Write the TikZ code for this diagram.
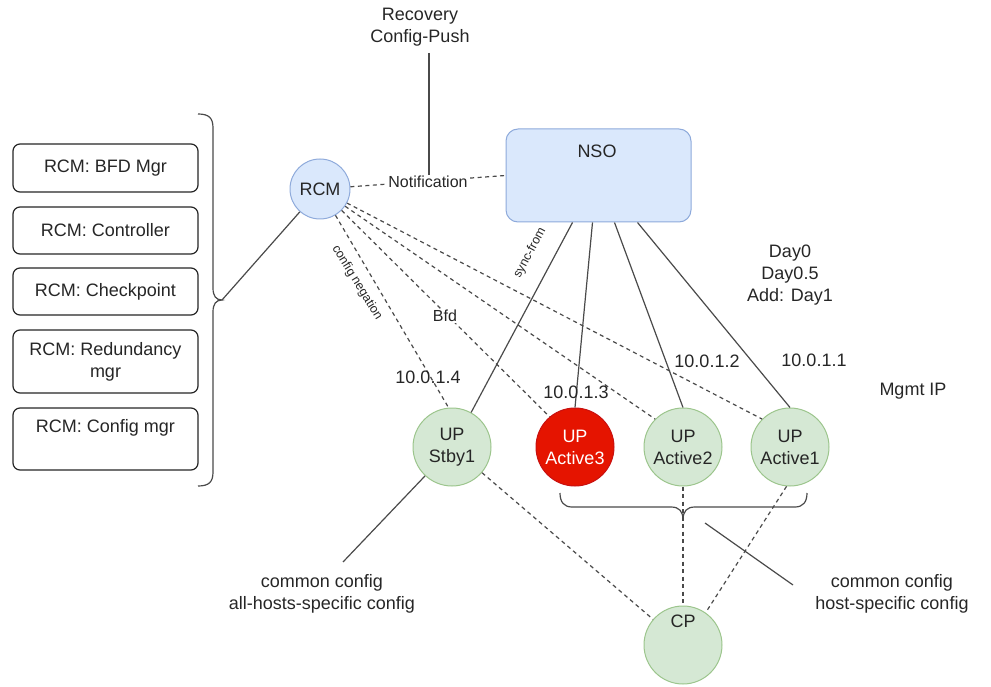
\documentclass[tikz,border=0pt]{standalone}
\usepackage{fontspec}
\setmainfont{Liberation Sans}
\usetikzlibrary{calc}
\definecolor{txt}{HTML}{262626}
\definecolor{ln}{HTML}{4A4A4A}
\definecolor{bluef}{HTML}{DAE8FC}
\definecolor{blued}{HTML}{8EAADB}
\definecolor{greenf}{HTML}{D5E8D4}
\definecolor{greend}{HTML}{9CC58C}
\definecolor{redf}{HTML}{E51400}
\definecolor{redd}{HTML}{C81010}
\begin{document}
\begin{tikzpicture}[x=1pt,y=-1pt,
  every node/.style={text=txt, font=\fontsize{18}{22}\selectfont, inner sep=0pt, align=center},
  mbox/.style={draw=txt, rounded corners=7pt, line width=1.2pt, minimum width=185pt, fill=white},
  upnode/.style={circle, draw=greend, fill=greenf, minimum size=78pt, line width=1pt},
  rednode/.style={circle, draw=redd, fill=redf, minimum size=78pt, line width=1pt, text=white},
  rcmnode/.style={circle, draw=blued, fill=bluef, minimum size=60pt, line width=1pt},
  nsobox/.style={draw=blued, fill=bluef, rounded corners=12pt, minimum width=185pt, minimum height=93pt, line width=1pt},
  conn/.style={draw=ln, line width=1.2pt},
  dconn/.style={conn, dash pattern=on 4pt off 3.5pt},
  elab/.style={font=\fontsize{16}{19}\selectfont, fill=white, inner sep=1pt},
  slab/.style={font=\fontsize{12.5}{15}\selectfont},
]
\useasboundingbox (0,0) rectangle (991,687);

% left boxes
\node[mbox, minimum height=48pt] (b1) at (105.5,168) {RCM: BFD Mgr};
\node[mbox, minimum height=47pt] (b2) at (105.5,230.5) {RCM: Controller};
\node[mbox, minimum height=47pt] (b3) at (105.5,291.5) {RCM: Checkpoint};
\node[mbox, minimum height=63pt] (b4) at (105.5,361.5) {RCM: Redundancy\\mgr};
\node[mbox, minimum height=62pt] (b5) at (105.5,439) {RCM: Config mgr\\\phantom{g}};

% left brace
\coordinate (btip) at (222,300);
\draw[conn] (198,114) .. controls (209,114) and (213,118) .. (213,128) -- (213,288)
  .. controls (213,296) and (216,300) .. (btip)
  .. controls (216,300) and (213,304) .. (213,312) -- (213,472)
  .. controls (213,482) and (209,486) .. (198,486);

% main nodes
\node[rcmnode] (rcm) at (320,189) {RCM};
\node[nsobox] (nso) at (598.5,175.5) {};
\node (nsolab) at (597,151) {NSO};
\node[upnode] (stby1) at (452,447) {UP\\Stby1};
\node[rednode] (act3) at (575,447) {UP\\Active3};
\node[upnode] (act2) at (683,447) {UP\\Active2};
\node[upnode] (act1) at (790,447) {UP\\Active1};
\node[upnode] (cp) at (683,645) {CP\\[22pt]\phantom{g}};

% left brace to RCM
\draw[conn] (btip) -- (rcm);

% Recovery / Notification
\node (rec) at (420,27) {Recovery\\Config-Push};
\draw[dconn] (rcm) -- (nso.west);
\node[elab] (notif) at (428,182) {Notification};
\coordinate (recb) at (429,53);
\draw[conn] (recb) -- (recb |- notif.north);

% NSO to UP nodes
\coordinate (n1) at ($(nso.south west)+(67,0)$);
\coordinate (n2) at ($(nso.south west)+(87,0)$);
\coordinate (n3) at ($(nso.south west)+(109,0)$);
\coordinate (n4) at ($(nso.south west)+(132,0)$);
\draw[conn] (n1) -- (stby1.61);
\draw[conn] (n2) -- (act3.north);
\draw[conn] (n3) -- (act2.north);
\draw[conn] (n4) -- (act1.north);

% RCM dashed lines
\draw[dconn] (rcm) -- (stby1.95);
\draw[dconn] (rcm) -- (act3.130);
\draw[dconn] (rcm) -- (act2.135);
\draw[dconn] (rcm) -- (act1.135);

% labels on lines
\node[slab, rotate=-58.5] (cneg) at (357,283) {config negation};
\node[slab, rotate=62] (sync) at (530,253) {sync-from};
\node[elab] (bfd) at (445,316) {Bfd};
\node (ip4) at (428,377) {10.0.1.4};
\node (ip3) at (576,392) {10.0.1.3};
\node (ip2) at (707,361) {10.0.1.2};
\node (ip1) at (814,360) {10.0.1.1};
\node (mgmt) at (913,391) {Mgmt IP};
\node (days) at (790,275) {Day0\\Day0.5\\Add: Day1};

% CP connections
\draw[dconn] (stby1) -- (cp);
\draw[dconn] (act2.south) -- (cp.north);
\draw[dconn] (act1.-95) -- (cp.55);

% bottom brace
\draw[conn] (560,493) .. controls (560,502) and (564,507) .. (572,507) -- (671,507)
  .. controls (679,507) and (683,511) .. (683,520)
  .. controls (683,511) and (687,507) .. (695,507) -- (795,507)
  .. controls (803,507) and (807,502) .. (807,493);

% bottom labels
\node (llab) at (322,594) {common config\\all-hosts-specific config};
\node (rlab) at (892,594) {common config\\host-specific config};
\coordinate (lc) at (343,562);
\draw[conn] (stby1.-133) -- (lc);
\coordinate (hc1) at (705,523);
\coordinate (hc2) at (793,585);
\draw[conn] (hc1) -- (hc2);
\end{tikzpicture}
\end{document}
